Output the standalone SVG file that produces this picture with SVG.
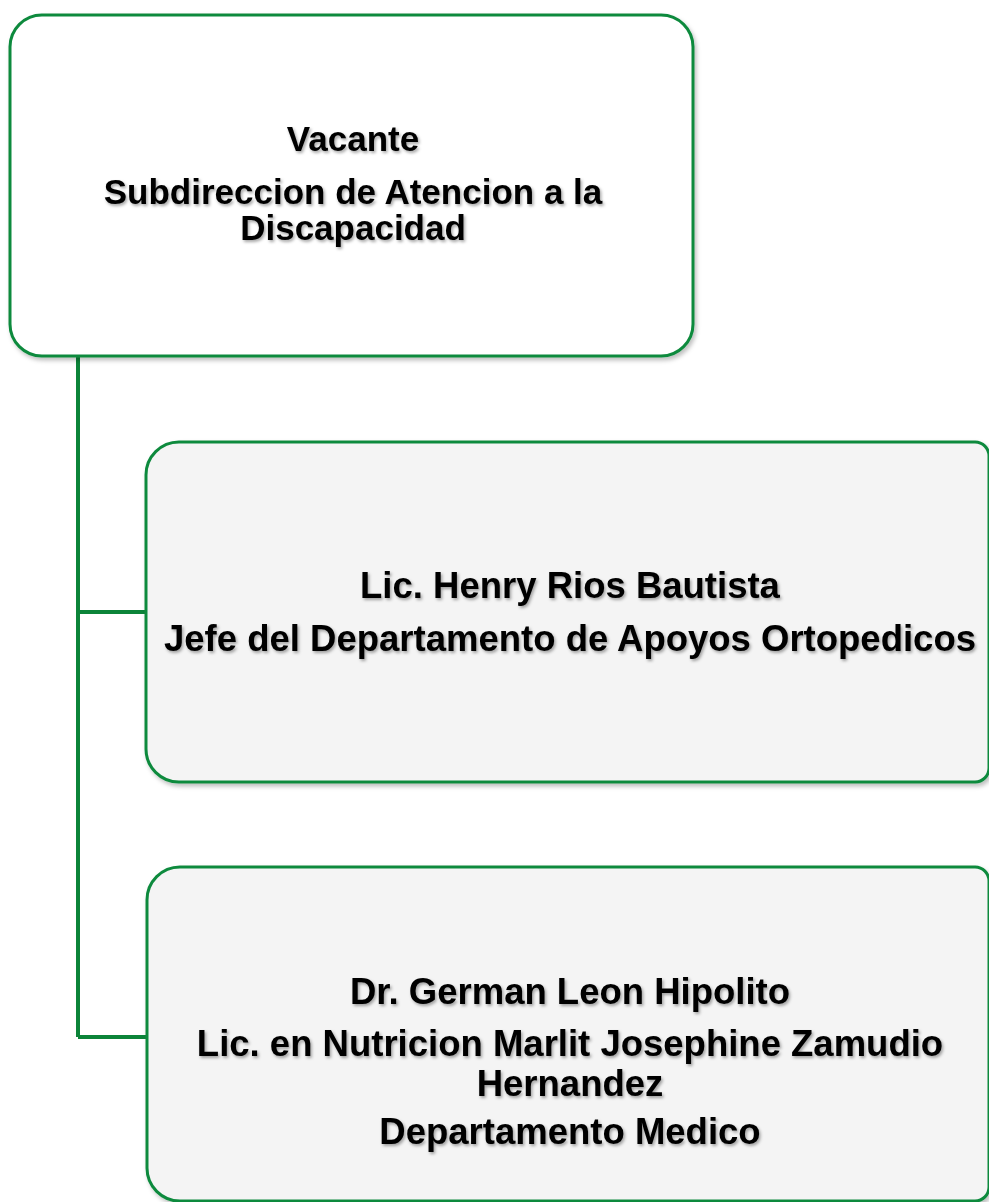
<svg xmlns="http://www.w3.org/2000/svg" width="989" height="1202" viewBox="0 0 989 1202">
<defs>
<filter id="boxShadow" x="-5%" y="-5%" width="110%" height="115%">
<feDropShadow dx="2" dy="3" stdDeviation="2" flood-color="#000" flood-opacity="0.25"/>
</filter>
<filter id="textShadow" x="-5%" y="-20%" width="110%" height="150%">
<feDropShadow dx="1.5" dy="2" stdDeviation="1.5" flood-color="#000" flood-opacity="0.35"/>
</filter>
</defs>
<style>
.box{stroke:#0e8a3e;stroke-width:3;filter:url(#boxShadow)}
.top{fill:#ffffff}
.sub{fill:#f4f4f4}
.conn{fill:none;stroke:#0c8439;stroke-width:4}
text{font-family:"Liberation Sans",Arial,sans-serif;font-weight:bold;font-size:35px;fill:#000;text-anchor:middle;filter:url(#textShadow)}
.big{font-size:36.5px}
</style>
<g id="connectors">
<path class="conn" d="M78,356 V1037 M78,612 H146 M78,1037 H147"/>
</g>
<g id="node-subdireccion">
<rect class="box top" x="10" y="15" width="683" height="341" rx="32" ry="32"/>
<text x="353" y="151">Vacante</text>
<text x="353" y="204">Subdireccion de Atencion a la</text>
<text x="353" y="240">Discapacidad</text>
</g>
<g id="node-apoyos">
<path class="box sub" d="M179,442 H975 A14,14 0 0 1 989,456 V768 A14,14 0 0 1 975,782 H179 A33,33 0 0 1 146,749 V475 A33,33 0 0 1 179,442 Z"/>
<text class="big" x="570" y="598">Lic. Henry Rios Bautista</text>
<text class="big" x="570" y="651">Jefe del Departamento de Apoyos Ortopedicos</text>
</g>
<g id="node-medico">
<path class="box sub" d="M180,867 H975 A14,14 0 0 1 989,881 V1187 A14,14 0 0 1 975,1201 H180 A33,33 0 0 1 147,1168 V900 A33,33 0 0 1 180,867 Z"/>
<text class="big" x="570" y="1004">Dr. German Leon Hipolito</text>
<text class="big" x="570" y="1056">Lic. en Nutricion Marlit Josephine Zamudio</text>
<text class="big" x="570" y="1096">Hernandez</text>
<text class="big" x="570" y="1144">Departamento Medico</text>
</g>
</svg>
